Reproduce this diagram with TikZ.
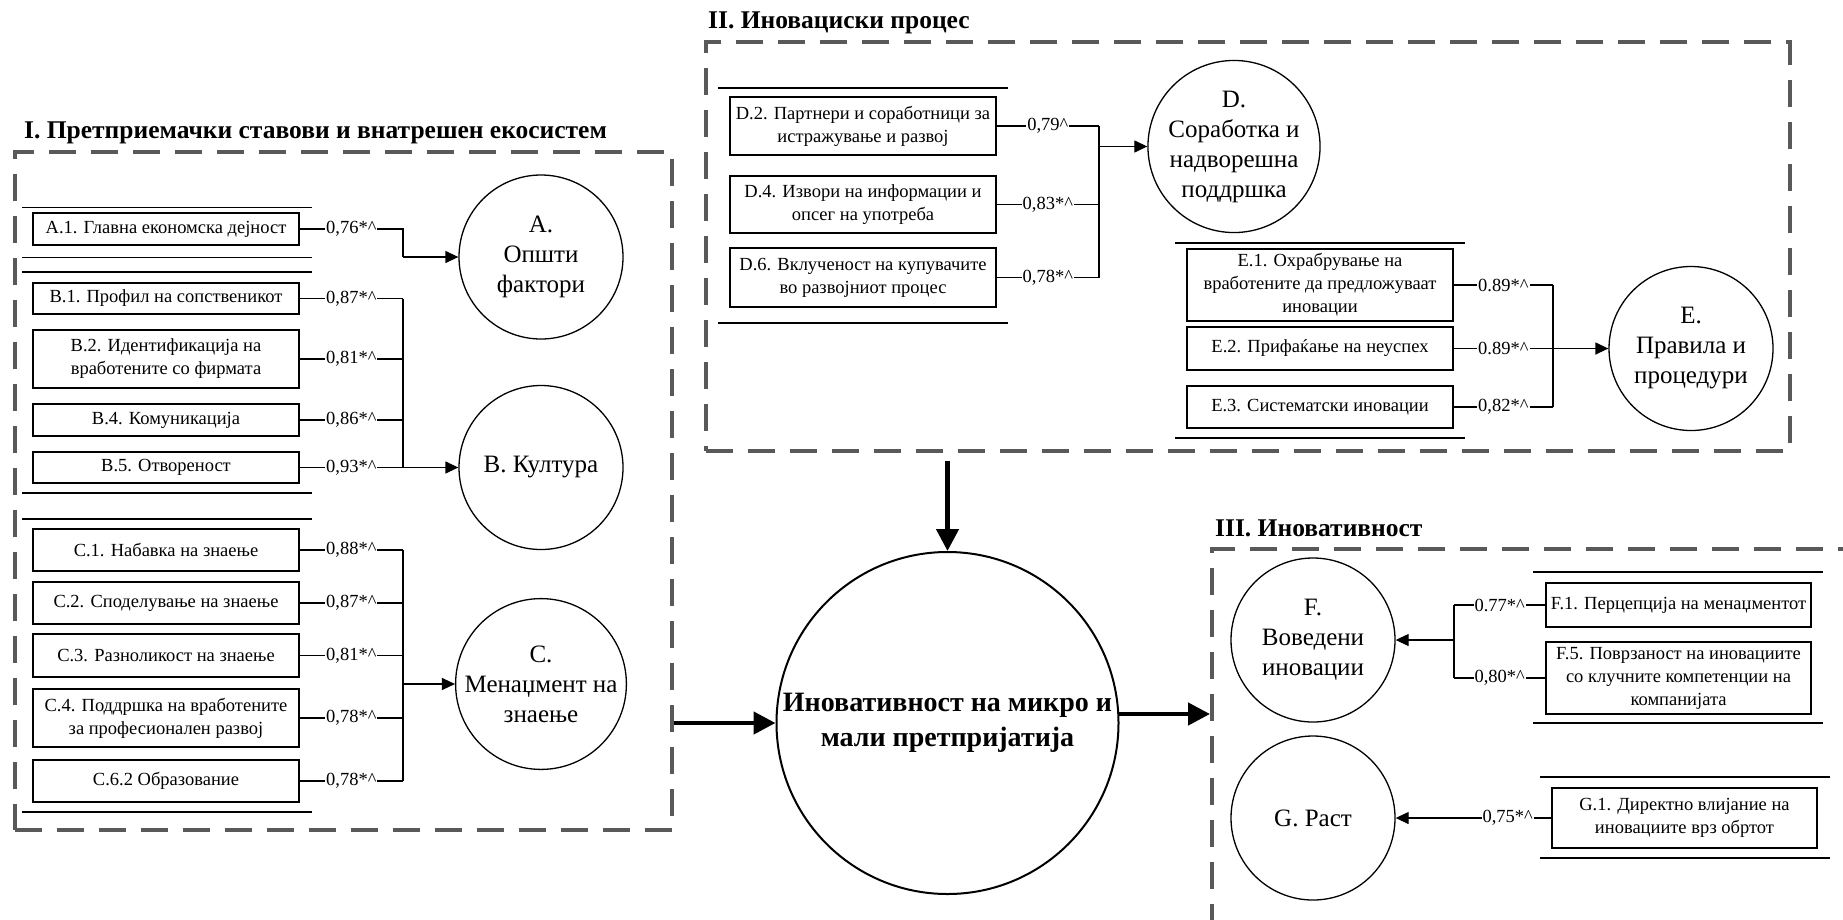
\documentclass[tikz,border=0pt]{standalone}
\usepackage{fontspec}
\setmainfont{Liberation Serif}
\usetikzlibrary{arrows.meta}
\definecolor{framegray}{RGB}{89,89,89}

\begin{document}
\begin{tikzpicture}[x=1pt,y=-1pt,
  frame/.style={draw=framegray, line width=4pt, dash pattern=on 27pt off 15pt, inner sep=0pt},
  item/.style={draw=black, line width=1.3pt, minimum width=266pt, inner sep=0pt, align=center,
    font=\fontsize{18.5}{23}\selectfont},
  factor/.style={draw=black, circle, line width=1.3pt, minimum size=164pt, inner sep=0pt, align=center,
    font=\fontsize{25}{30}\selectfont},
  sep/.style={line width=1.2pt},
  link/.style={line width=1.3pt},
  lbl/.style={fill=white, inner sep=1pt, font=\fontsize{18.5}{22}\selectfont},
  arr/.style={link, -{Triangle[length=13pt,width=12pt]}},
  main/.style={line width=4.5pt, -{Triangle[length=22pt,width=22pt]}},
  title/.style={anchor=west, inner sep=0pt, font=\bfseries\fontsize{25.5}{29}\selectfont}]

\clip (0,0) rectangle (1843,919);
\fill[white] (0,0) rectangle (1843,919);

% ---------- frames and titles ----------
\node[frame, minimum width=657.5pt, minimum height=678.5pt] (frameI) at (343.25,490.75) {};
\node[frame, minimum width=1084.4pt, minimum height=409pt] (frameII) at (1247.8,246.5) {};
\node[frame, minimum width=688pt, minimum height=411pt] (frameIII) at (1556,754.5) {};

\node[title] (tI) at (24,133) {I. Претприемачки ставови и внатрешен екосистем};
\node[title] (tII) at (708,23) {II. Иновациски процес};
\node[title] (tIII) at (1215,528) {III. Иновативност};

% ---------- group separators ----------
\foreach \yy in {207.5,257.5,272,493,519,812}
  \draw[sep] (22,\yy) -- (312,\yy);
\foreach \yy in {88,323}
  \draw[sep] (718,\yy) -- (1008,\yy);
\foreach \yy in {243,438}
  \draw[sep] (1175,\yy) -- (1465,\yy);
\foreach \yy in {572,723}
  \draw[sep] (1533,\yy) -- (1823,\yy);
\foreach \yy in {777,858}
  \draw[sep] (1540,\yy) -- (1830,\yy);

% ---------- indicator boxes ----------
\node[item, minimum height=32pt] (A1) at (166,229) {A.1. Главна економска дејност};

\node[item, minimum height=31pt] (B1) at (166,298.5) {B.1. Профил на сопственикот};
\node[item, minimum height=58pt] (B2) at (166,359) {B.2. Идентификација на\\вработените со фирмата};
\node[item, minimum height=32pt] (B4) at (166,420) {B.4. Комуникација};
\node[item, minimum height=31pt] (B5) at (166,467.5) {B.5. Отвореност};

\node[item, minimum height=42pt] (C1) at (166,550) {C.1. Набавка на знаење};
\node[item, minimum height=42pt] (C2) at (166,603) {C.2. Споделување на знаење};
\node[item, minimum height=43pt] (C3) at (166,655.5) {C.3. Разноликост на знаење};
\node[item, minimum height=58pt] (C4) at (166,718) {C.4. Поддршка на вработените\\за професионален развој};
\node[item, minimum height=42pt] (C62) at (166,781) {C.6.2 Образование};

\node[item, minimum height=58pt] (D2) at (863,126) {D.2. Партнери и соработници за\\истражување и развој};
\node[item, minimum height=57pt] (D4) at (863,204.5) {D.4. Извори на информации и\\опсег на употреба};
\node[item, minimum height=59pt] (D6) at (863,277.5) {D.6. Вклученост на купувачите\\во развојниот процес};

\node[item, minimum height=72pt] (E1) at (1320,285) {E.1. Охрабрување на\\вработените да предложуваат\\иновации};
\node[item, minimum height=43pt] (E2) at (1320,348.5) {E.2. Прифаќање на неуспех};
\node[item, minimum height=42pt] (E3) at (1320,407) {E.3. Систематски иновации};

\node[item, minimum width=265pt, minimum height=44pt] (F1) at (1678.5,605) {F.1. Перцепција на менаџментот};
\node[item, minimum width=265pt, minimum height=72pt] (F5) at (1678.5,678) {F.5. Поврзаност на иновациите\\со клучните компетенции на\\компанијата};

\node[item, minimum width=265pt, minimum height=60pt] (G1) at (1684.5,818) {G.1. Директно влијание на\\иновациите врз обртот};

% ---------- latent factors ----------
\node[factor] (cA) at (541,257) {A.\\Општи\\фактори};
\node[factor] (cB) at (541,467.5) {B. Култура};
\node[factor] (cC) at (541,684) {C.\\Менаџмент на\\знаење};
\node[factor] (cD) at (1234,146.5) {D.\\Соработка и\\надворешна\\поддршка};
\node[factor] (cE) at (1691,348.5) {E.\\Правила и\\процедури};
\node[factor] (cF) at (1313,640) {F.\\Воведени\\иновации};
\node[factor] (cG) at (1313,818) {G. Раст};

\node[draw=black, circle, line width=2pt, minimum size=342pt, inner sep=0pt, align=center,
  font=\bfseries\fontsize{28}{35}\selectfont] (cM) at (947.5,723)
  {Иновативност на микро и\\мали претпријатија};

% ---------- loadings: A ----------
\coordinate (jA) at (403,257);
\draw[link] (A1.east) -- node[lbl]{0,76*\textasciicircum} (A1.east -| jA) -- (jA);
\draw[arr] (jA) -- (cA);

% ---------- loadings: B ----------
\coordinate (jB) at (403,467.5);
\draw[link] (B1.east) -- node[lbl]{0,87*\textasciicircum} (B1.east -| jB);
\draw[link] (B2.east) -- node[lbl]{0,81*\textasciicircum} (B2.east -| jB);
\draw[link] (B4.east) -- node[lbl]{0,86*\textasciicircum} (B4.east -| jB);
\draw[link] (B5.east) -- node[lbl]{0,93*\textasciicircum} (B5.east -| jB);
\draw[link] (B1.east -| jB) -- (jB);
\draw[arr] (jB) -- (cB);

% ---------- loadings: C ----------
\coordinate (jC) at (403,684);
\draw[link] (C1.east) -- node[lbl]{0,88*\textasciicircum} (C1.east -| jC);
\draw[link] (C2.east) -- node[lbl]{0,87*\textasciicircum} (C2.east -| jC);
\draw[link] (C3.east) -- node[lbl]{0,81*\textasciicircum} (C3.east -| jC);
\draw[link] (C4.east) -- node[lbl]{0,78*\textasciicircum} (C4.east -| jC);
\draw[link] (C62.east) -- node[lbl]{0,78*\textasciicircum} (C62.east -| jC);
\draw[link] (C1.east -| jC) -- (C62.east -| jC);
\draw[arr] (jC) -- (cC);

% ---------- loadings: D ----------
\coordinate (jD) at (1099,146.5);
\draw[link] (D2.east) -- node[lbl]{0,79\textasciicircum} (D2.east -| jD);
\draw[link] (D4.east) -- node[lbl]{0,83*\textasciicircum} (D4.east -| jD);
\draw[link] (D6.east) -- node[lbl]{0,78*\textasciicircum} (D6.east -| jD);
\draw[link] (D2.east -| jD) -- (D6.east -| jD);
\draw[arr] (jD) -- (cD);

% ---------- loadings: E ----------
\coordinate (jE) at (1553,348.5);
\draw[link] (E1.east) -- node[lbl]{0.89*\textasciicircum} (E1.east -| jE);
\draw[link] (E2.east) -- node[lbl]{0.89*\textasciicircum} (E2.east -| jE);
\draw[link] (E3.east) -- node[lbl]{0,82*\textasciicircum} (E3.east -| jE);
\draw[link] (E1.east -| jE) -- (E3.east -| jE);
\draw[arr] (jE) -- (cE);

% ---------- loadings: F and G ----------
\coordinate (jF) at (1454,640);
\draw[link] (F1.west) -- node[lbl]{0.77*\textasciicircum} (F1.west -| jF);
\draw[link] (F5.west) -- node[lbl]{0,80*\textasciicircum} (F5.west -| jF);
\draw[link] (F1.west -| jF) -- (F5.west -| jF);
\draw[arr] (jF) -- (cF);
\draw[arr] (G1.west) -- node[lbl, pos=0.28]{0,75*\textasciicircum} (cG);

% ---------- main flow ----------
\coordinate (mT) at (947.5,461);
\draw[main] (mT) -- (cM.north);
\draw[main] (frameI.east |- cM) -- (cM.west);
\draw[main] (cM.3) -- (cM.3 -| frameIII.west);

\end{tikzpicture}
\end{document}
